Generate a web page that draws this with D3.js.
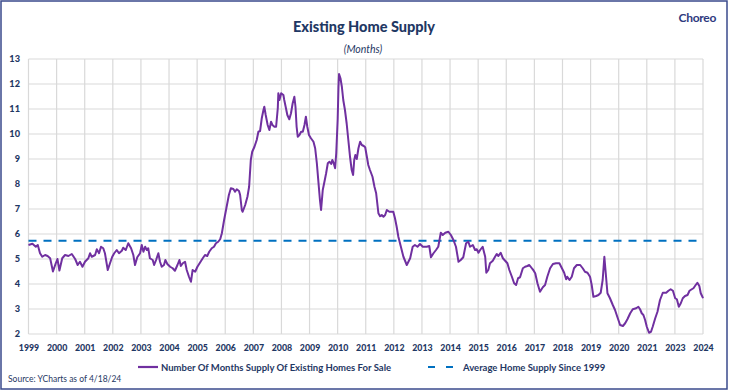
<!DOCTYPE html>
<html><head><meta charset="utf-8">
<script src="https://cdn.jsdelivr.net/npm/d3@7"></script>
<style>
html,body{margin:0;padding:0;background:#fff;}
svg{display:block;}
text{font-family:Lato,"Open Sans",sans-serif;}
</style></head>
<body>
<script>
// ---- data ----
const xLabels = ["1999","2000","2001","2002","2003","2004","2005","2006","2007","2008","2009","2010","2011","2012","2013","2014","2015","2016","2017","2018","2019","2020","2021","2023","2024"];
const yTicks = [2,3,4,5,6,7,8,9,10,11,12,13];
// position along the category axis (0 = "1999" label, 24 = "2024" label)
const period = [0.00,0.14,0.26,0.33,0.41,0.49,0.59,0.68,0.77,0.87,0.97,1.03,1.10,1.20,1.30,1.42,1.54,1.66,1.75,1.83,1.92,2.01,2.13,2.19,2.25,2.37,2.43,2.51,2.58,2.66,2.72,2.82,2.90,2.98,3.05,3.14,3.22,3.32,3.37,3.46,3.55,3.65,3.73,3.79,3.87,3.97,
4.03,4.09,4.15,4.21,4.26,4.32,4.42,4.47,4.54,4.62,4.68,4.74,4.82,4.87,4.94,5.04,5.13,5.21,5.30,5.37,5.42,5.49,5.57,5.63,5.71,5.78,5.84,5.93,6.01,6.10,6.20,6.28,6.36,6.43,6.52,6.60,6.67,6.75,6.82,6.88,6.96,7.05,7.13,7.20,7.29,7.35,7.41,7.49,7.53,7.59,7.62,7.71,7.79,7.85,7.91,7.96,8.04,
8.12,8.18,8.24,8.30,8.36,8.39,8.44,8.51,8.57,8.63,8.68,8.75,8.81,8.87,8.89,8.93,8.99,9.07,9.10,9.15,9.21,9.28,9.34,9.40,9.46,9.50,9.54,9.58,9.64,9.70,9.76,9.82,9.87,9.92,9.98,10.05,10.14,10.20,10.26,10.31,10.37,10.41,10.47,10.53,10.59,10.65,10.71,10.77,10.81,10.86,10.91,10.95,11.00,11.03,11.05,11.10,11.15,11.20,11.26,11.32,11.38,11.44,11.50,11.55,11.59,11.63,11.68,11.74,11.80,11.86,11.93,11.98,12.04,12.09,12.15,12.24,12.31,12.37,12.45,12.51,12.57,12.63,12.69,12.75,12.84,12.98,13.04,13.10,13.16,13.25,13.34,13.46,13.58,13.67,13.75,13.84,13.93,14.03,14.17,14.26,14.32,14.41,14.50,14.58,14.67,14.74,14.83,14.94,15.03,15.12,15.21,15.30,15.38,15.47,15.57,15.65,15.71,15.81,15.89,15.95,16.01,16.07,16.16,16.25,16.29,16.36,
16.42,16.52,16.60,16.66,16.72,16.80,16.88,16.96,17.04,17.11,17.20,17.28,17.35,17.42,17.49,17.59,17.67,17.75,17.82,17.91,17.96,18.03,18.11,18.20,18.30,18.38,18.46,18.56,18.66,18.77,18.89,18.98,19.06,19.13,19.17,19.25,19.33,19.41,19.51,19.63,19.72,19.80,19.89,19.98,20.04,20.10,20.20,20.28,20.36,20.43,20.49,20.55,20.60,20.69,20.79,20.87,20.95,21.05,21.15,21.23,21.31,21.41,21.50,21.62,21.70,21.76,21.82,21.88,21.94,22.00,22.08,22.15,22.21,22.30,22.38,22.47,22.57,22.69,22.77,22.85,22.93,23.01,23.07,23.14,23.21,23.28,23.36,23.45,23.52,23.60,23.66,23.74,23.80,23.87,23.92,23.98,24.00];
const monthsSupply = [5.56,5.61,5.49,5.56,5.23,5.09,5.16,5.12,5.03,4.50,4.83,5.00,4.54,5.03,5.16,5.12,5.20,5.00,4.76,4.89,4.69,4.89,5.03,5.23,5.09,5.16,5.39,5.23,5.49,5.43,5.23,4.56,4.83,5.09,5.23,5.36,5.23,5.33,5.45,5.36,5.63,5.43,5.16,4.76,5.07,5.23,
5.56,5.29,5.49,5.36,5.43,5.03,4.96,4.76,4.96,5.23,4.89,4.69,4.76,4.96,4.80,4.69,4.63,4.53,4.76,4.96,4.72,4.83,4.89,4.56,4.29,4.09,4.56,4.49,4.69,4.85,5.03,5.16,5.12,5.29,5.43,5.49,5.63,5.69,5.79,6.03,6.56,7.09,7.56,7.83,7.80,7.69,7.79,7.72,7.56,6.96,6.89,7.16,7.49,7.89,8.96,9.29,9.49,
9.76,10.09,10.12,10.63,10.96,11.09,10.76,10.36,10.16,10.49,10.36,10.29,10.29,11.03,11.63,11.36,11.63,11.56,11.36,11.09,10.76,10.59,10.83,11.23,11.49,11.09,10.29,9.89,9.96,10.09,10.09,10.36,10.69,10.29,9.96,9.83,9.69,9.43,8.83,8.16,7.36,6.96,7.76,8.09,8.43,8.83,8.89,8.80,8.96,8.83,8.63,9.23,10.56,11.89,12.40,12.23,11.89,11.36,10.96,10.43,9.76,9.09,8.56,8.36,8.96,9.16,9.00,9.43,9.69,9.56,9.52,9.47,9.09,8.76,8.56,8.29,7.89,7.63,6.83,6.71,6.76,6.69,6.76,6.96,6.89,6.89,6.63,6.29,5.89,5.49,5.09,4.76,5.03,5.49,5.56,5.49,5.60,5.49,5.49,5.52,5.07,5.23,5.36,5.49,6.05,5.96,6.05,6.09,5.96,5.76,5.49,4.89,4.96,5.07,5.63,5.69,5.49,5.56,5.36,5.39,5.25,5.36,5.49,5.09,4.45,4.56,
4.83,4.93,5.09,5.20,5.12,5.25,5.03,4.93,4.83,4.56,4.29,4.03,3.96,4.23,4.27,4.63,4.69,4.72,4.76,4.63,4.56,4.43,4.03,3.69,3.87,3.96,4.29,4.63,4.80,4.83,4.83,4.63,4.45,4.19,4.29,4.16,4.29,4.63,4.76,4.76,4.63,4.49,4.45,4.29,3.96,3.49,3.52,3.56,3.65,4.16,5.09,4.29,3.63,3.43,3.16,2.96,2.69,2.36,2.32,2.43,2.59,2.83,2.99,3.03,3.09,2.99,2.83,2.76,2.56,2.29,2.05,2.09,2.29,2.63,2.89,3.36,3.65,3.65,3.73,3.79,3.73,3.43,3.39,3.09,3.23,3.43,3.52,3.56,3.73,3.79,3.83,3.96,4.05,3.92,3.63,3.49,3.43];
const averageSupply = 5.73;
const seriesName = "Number Of Months Supply Of Existing Homes For Sale";
const averageName = "Average Home Supply Since 1999";
const titleText = "Existing Home Supply";
const subtitleText = "(Months)";
const sourceText = "Source: YCharts as of 4/18/24";
const logoText = "Choreo";

// ---- drawing ----
const W = 729, H = 391;
const navy = "#1f3864";
const svg = d3.select("body").append("svg").attr("width", W).attr("height", H);

svg.append("rect").attr("x",0).attr("y",0).attr("width",W).attr("height",H).attr("fill","#fff");
svg.append("rect").attr("x",1).attr("y",1).attr("width",W-3).attr("height",H-3)
  .attr("fill","none").attr("stroke","#3a4a8c").attr("stroke-width",1.5);

const x = d3.scaleLinear().domain([0, xLabels.length - 1]).range([28.5, 703]);
const y = d3.scaleLinear().domain([2, 13]).range([334, 59]);

// gridlines
const g = svg.append("g");
g.selectAll("line.h").data(yTicks).join("line").attr("class","h")
  .attr("x1", x(0)).attr("x2", x(xLabels.length-1))
  .attr("y1", d=>y(d)).attr("y2", d=>y(d))
  .attr("stroke","#d9d9d9").attr("stroke-width",1.2);
g.selectAll("line.v").data(xLabels).join("line").attr("class","v")
  .attr("x1",(d,i)=>x(i)).attr("x2",(d,i)=>x(i))
  .attr("y1", y(13)).attr("y2", y(2))
  .attr("stroke","#d9d9d9").attr("stroke-width",1.2);

// axes labels
const yAxis = d3.axisLeft(y).tickValues(yTicks).tickSize(0).tickPadding(0).tickFormat(d3.format("d"));
const ya = svg.append("g").attr("transform","translate(20,0)").call(yAxis);
ya.select(".domain").remove();
ya.selectAll("text").attr("fill",navy).attr("font-size","9.2px").attr("font-weight","900").attr("font-family","Lato, sans-serif");

const xAxis = d3.axisBottom(x).tickValues(d3.range(xLabels.length)).tickSize(0).tickPadding(0).tickFormat(i=>xLabels[i]);
const xa = svg.append("g").attr("transform","translate(0,345)").call(xAxis);
xa.select(".domain").remove();
xa.selectAll("text").attr("fill",navy).attr("font-size","8.8px").attr("font-weight","900").attr("font-family","Lato, sans-serif");

// average dashed line
svg.append("line")
  .attr("x1", x(0)).attr("x2", x(xLabels.length-1))
  .attr("y1", y(averageSupply)).attr("y2", y(averageSupply))
  .attr("stroke","#0070c0").attr("stroke-width",2.2).attr("stroke-dasharray","8,7");

// series line
const pts = period.map((p,i)=>[p, monthsSupply[i]]);
svg.append("path").datum(pts)
  .attr("fill","none").attr("stroke","#7030a0").attr("stroke-width",2)
  .attr("stroke-linejoin","round")
  .attr("d", d3.line().x(d=>x(d[0])).y(d=>y(d[1])));

// titles
svg.append("text").attr("x",364).attr("y",32).attr("text-anchor","middle")
  .attr("fill",navy).attr("font-size","14.5px").attr("font-weight","900").text(titleText);
svg.append("text").attr("x",363).attr("y",53).attr("text-anchor","middle")
  .attr("fill",navy).attr("font-size","10.5px").attr("font-style","italic").text(subtitleText);
svg.append("text").attr("x",716).attr("y",22).attr("text-anchor","end")
  .attr("fill","#2e3a7e").attr("font-size","12px").attr("font-weight","bold").attr("letter-spacing","-0.3").text(logoText);

// legend
const lg = svg.append("g");
lg.append("line").attr("x1",138).attr("x2",158).attr("y1",367).attr("y2",367)
  .attr("stroke","#7030a0").attr("stroke-width",2.2);
lg.append("text").attr("x",161).attr("y",370.5).attr("fill",navy)
  .attr("font-size","9.5px").attr("font-weight","bold").text(seriesName);
lg.append("line").attr("x1",428).attr("x2",453).attr("y1",367).attr("y2",367)
  .attr("stroke","#0070c0").attr("stroke-width",2.2).attr("stroke-dasharray","7,11");
lg.append("text").attr("x",463).attr("y",370.5).attr("fill",navy)
  .attr("font-size","9.5px").attr("font-weight","bold").text(averageName);

// source
svg.append("text").attr("x",8).attr("y",382).attr("fill",navy)
  .attr("font-size","8.5px").text(sourceText);
</script>
</body></html>
